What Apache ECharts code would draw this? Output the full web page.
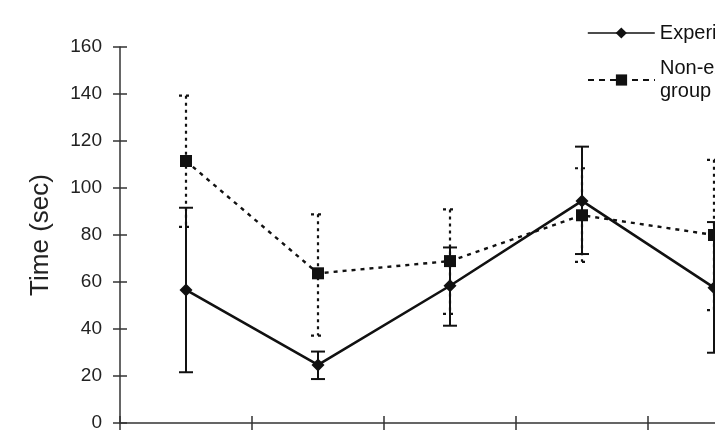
<!DOCTYPE html>
<html>
<head>
<meta charset="utf-8">
<script src="https://cdn.jsdelivr.net/npm/echarts@6/dist/echarts.min.js"></script>
<style>
html, body { margin: 0; padding: 0; background: #fff; overflow: hidden; }
/* the figure is cropped on the right, so the canvas is wider than the window */
#main { width: 800px; height: 441px; }
</style>
</head>
<body>
<div id="main"></div>
<script>
// values
var categories = ['1', '2', '3', '4', '5'];
var yTicks = { min: 0, max: 160, interval: 20 };

var expMean = [56.6, 24.7, 58.4, 94.5, 57.6];
var expLow  = [21.6, 18.7, 41.4, 71.9, 29.9];
var expHigh = [91.6, 30.4, 74.7, 117.6, 85.5];

var nonMean = [111.5, 63.7, 68.9, 88.4, 80.0];
var nonLow  = [83.5, 37.2, 46.4, 68.6, 48.0];
var nonHigh = [139.3, 88.8, 90.9, 108.4, 112.0];

var FONT = 'Liberation Sans, Arial, sans-serif';
var AXIS = { color: '#333', width: 1.5 };

/**
 * 误差线 (custom series)
 */
function errorBarItem(dash) {
	return function (params, api) {
		var x = api.value(0);
		var lo = api.coord([x, api.value(1)]);
		var hi = api.coord([x, api.value(2)]);
		var w = 7;
		var style = { stroke: '#111', lineWidth: dash ? 2.2 : 2, lineDash: dash || null };
		return {
			type: 'group',
			children: [
				{ type: 'line', shape: { x1: hi[0], y1: hi[1], x2: lo[0], y2: lo[1] }, style: style },
				{ type: 'line', shape: { x1: hi[0] - w, y1: hi[1], x2: hi[0] + w, y2: hi[1] }, style: style },
				{ type: 'line', shape: { x1: lo[0] - w, y1: lo[1], x2: lo[0] + w, y2: lo[1] }, style: style }
			]
		};
	};
}

function bars(low, high) {
	return low.map(function (v, i) { return [i, v, high[i]]; });
}

var gridBox = { left: 120, top: 47, width: 660, height: 376 };

var myChart = echarts.init(document.getElementById('main'));
var options = {
	animation: false,
	// grid 1 only carries the inner half of the crossing ticks
	grid: [gridBox, gridBox],
	legend: [
		{
			data: ['Experimental group'],
			left: 587, top: 21.5, padding: 0,
			itemWidth: 67, itemHeight: 14,
			lineStyle: { width: 1.6 },
			textStyle: { fontFamily: FONT, fontSize: 20, color: '#111', lineHeight: 23 }
		},
		{
			data: ['Non-experimental group'],
			left: 587, top: 45.5, padding: 0,
			itemWidth: 67, itemHeight: 14,
			lineStyle: { width: 2, type: [6, 5] },
			formatter: function () { return 'Non-experimental\ngroup'; },
			textStyle: { fontFamily: FONT, fontSize: 20, color: '#111', lineHeight: 23, padding: [23, 0, 0, 0] }
		}
	],
	xAxis: [
		{
			type: 'category', data: categories, gridIndex: 0,
			axisLine: { show: true, lineStyle: AXIS },
			axisTick: { show: true, interval: 0, length: 7, lineStyle: AXIS },
			axisLabel: { show: false }
		},
		{
			type: 'category', data: categories, gridIndex: 1,
			axisLine: { show: false },
			axisTick: { show: true, interval: 0, inside: true, length: 7, lineStyle: AXIS },
			axisLabel: { show: false }
		}
	],
	yAxis: [
		{
			type: 'value', gridIndex: 0,
			min: yTicks.min, max: yTicks.max, interval: yTicks.interval,
			name: 'Time (sec)', nameLocation: 'middle', nameGap: 66,
			nameTextStyle: { fontFamily: FONT, fontSize: 26, color: '#222' },
			axisLine: { show: true, lineStyle: AXIS },
			axisTick: { show: true, length: 7, lineStyle: AXIS },
			axisLabel: { margin: 18, fontFamily: FONT, fontSize: 19, color: '#222' },
			splitLine: { show: false }
		},
		{
			type: 'value', gridIndex: 1,
			min: yTicks.min, max: yTicks.max, interval: yTicks.interval,
			axisLine: { show: false },
			axisTick: { show: true, inside: true, length: 7, lineStyle: AXIS },
			axisLabel: { show: false },
			splitLine: { show: false }
		}
	],
	series: [
		{
			name: 'Experimental group', type: 'line', data: expMean,
			symbol: 'diamond', symbolSize: 13,
			itemStyle: { color: '#111' },
			lineStyle: { color: '#111', width: 2.6, type: 'solid' },
			z: 3
		},
		{
			name: 'Non-experimental group', type: 'line', data: nonMean,
			symbol: 'rect', symbolSize: 12,
			itemStyle: { color: '#111' },
			lineStyle: { color: '#111', width: 2.4, type: [4, 5] },
			z: 3
		},
		{
			name: 'expErr', type: 'custom', renderItem: errorBarItem(null),
			data: bars(expLow, expHigh), z: 2
		},
		{
			name: 'nonErr', type: 'custom', renderItem: errorBarItem([3, 4]),
			data: bars(nonLow, nonHigh), z: 2
		}
	]
};
myChart.setOption(options);
</script>
</body>
</html>
